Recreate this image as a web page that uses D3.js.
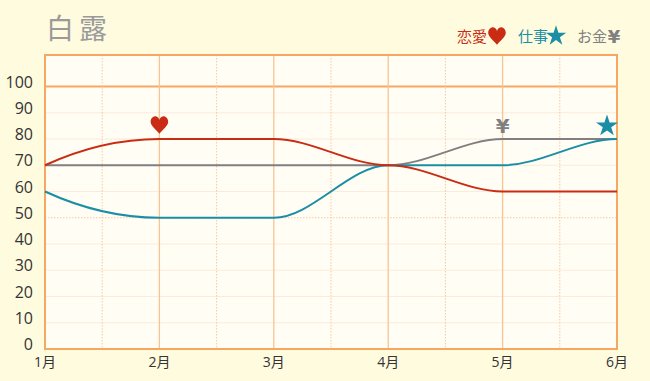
<!DOCTYPE html>
<html><head><meta charset="utf-8">
<script src="https://cdn.jsdelivr.net/npm/d3@7/dist/d3.min.js"></script>
<style>
html,body{margin:0;padding:0;background:#FFFBDF;}
svg{display:block;}
</style></head>
<body>
<svg id="c" width="650" height="381"></svg>
<script>
const months = ["1月","2月","3月","4月","5月","6月"];
const yTicks = [0,10,20,30,40,50,60,70,80,90,100];
const loveValues = [70,80,80,70,60,60];
const workValues = [60,50,50,70,70,80];
const moneyValues = [70,70,70,70,80,80];
const seriesNames = ["恋愛","仕事","お金"];
const markerMonths = ["2月","6月","5月"];

const colors = ["#C92B14","#1A8EA5","#808080"];
const svg = d3.select("#c");
const L=45,R=617,T=55,B=349;
const x = d3.scalePoint().domain(months).range([L,R]);
const y = d3.scaleLinear().domain([0,100]).range([B,86.5]);

svg.append("rect").attr("width",650).attr("height",381).attr("fill","#FFFBDF");
svg.append("rect").attr("x",L).attr("y",T).attr("width",R-L).attr("height",B-T).attr("fill","#FFFDF4");

// horizontal grid
yTicks.forEach(t=>{
  if(t===0) return;
  const g = svg.append("line").attr("x1",L).attr("x2",R).attr("y1",y(t)).attr("y2",y(t));
  if(t===100) g.attr("stroke","#F6A862").attr("stroke-width",2);
  else if(t===50) g.attr("stroke","#F7C9A0").attr("stroke-width",1).attr("stroke-dasharray","1.5,1.5");
  else g.attr("stroke","#FBEBDA").attr("stroke-width",1);
});
// vertical grid
const step = x.step();
months.forEach((m,i)=>{
  if(i>0 && i<months.length-1)
    svg.append("line").attr("x1",x(m)).attr("x2",x(m)).attr("y1",T).attr("y2",B)
      .attr("stroke","#F8C592").attr("stroke-width",1.3);
  if(i<months.length-1)
    svg.append("line").attr("x1",x(m)+step/2).attr("x2",x(m)+step/2).attr("y1",T).attr("y2",B)
      .attr("stroke","#F6C9A0").attr("stroke-width",1).attr("stroke-dasharray","1.5,1.5");
});
// frame
svg.append("rect").attr("x",L).attr("y",T).attr("width",R-L).attr("height",B-T)
  .attr("fill","none").attr("stroke","#F6A862").attr("stroke-width",2);

// axis labels
svg.append("g").selectAll("text").data(yTicks).join("text")
  .attr("x",33).attr("y",d=>y(d)+1).attr("text-anchor","end")
  .attr("font-family","'Open Sans', sans-serif").attr("font-size",16).attr("fill","#333")
  .text(d=>d);
svg.append("g").selectAll("text").data(months).join("text")
  .attr("x",d=>x(d)).attr("y",367).attr("text-anchor","middle")
  .attr("font-family","'Open Sans','Noto Sans CJK JP', sans-serif").attr("font-size",14).attr("fill","#333")
  .text(d=>d);

// custom curve: flat tangents at interior points and end, quadratic-like start
function curveFlat(context){
  let pts;
  return {
    areaStart(){}, areaEnd(){},
    lineStart(){pts=[];},
    point(px,py){pts.push([+px,+py]);},
    lineEnd(){
      context.moveTo(pts[0][0],pts[0][1]);
      for(let i=1;i<pts.length;i++){
        const [x0,y0]=pts[i-1],[x1,y1]=pts[i],h=x1-x0;
        const m0 = i===1 ? 2*(y1-y0)/h : 0;
        context.bezierCurveTo(x0+h/3,y0+m0*h/3,x1-h/3,y1,x1,y1);
      }
    }
  };
}
const line = d3.line().x((d,i)=>x(months[i])).y(d=>y(d)).curve(curveFlat);
const allSeries=[loveValues,workValues,moneyValues];
[moneyValues,workValues,loveValues].forEach(vals=>{
  const idx = allSeries.indexOf(vals);
  svg.append("path").attr("d",line(vals)).attr("fill","none")
    .attr("stroke",colors[idx]).attr("stroke-width",2);
});

// markers
function heartPath(cx,cy,s){
  return `M${cx},${cy+s*0.55} C${cx-s*0.2},${cy+s*0.3} ${cx-s*0.55},${cy+s*0.05} ${cx-s*0.55},${cy-s*0.2}
  C${cx-s*0.55},${cy-s*0.45} ${cx-s*0.35},${cy-s*0.55} ${cx-s*0.25},${cy-s*0.55}
  C${cx-s*0.1},${cy-s*0.55} ${cx},${cy-s*0.4} ${cx},${cy-s*0.3}
  C${cx},${cy-s*0.4} ${cx+s*0.1},${cy-s*0.55} ${cx+s*0.25},${cy-s*0.55}
  C${cx+s*0.35},${cy-s*0.55} ${cx+s*0.55},${cy-s*0.45} ${cx+s*0.55},${cy-s*0.2}
  C${cx+s*0.55},${cy+s*0.05} ${cx+s*0.2},${cy+s*0.3} ${cx},${cy+s*0.55}Z`;
}
{
  const cx=x(markerMonths[0]), cy=y(loveValues[1])-14;
  svg.append("path").attr("d",heartPath(cx,cy,16)).attr("fill",colors[0]);
}
{
  const cx=x(markerMonths[1])-10, cy=y(workValues[5])-13;
  svg.append("path").attr("d",d3.symbol(d3.symbolStar,150)()).attr("transform",`translate(${cx},${cy})`).attr("fill",colors[1]);
}
svg.append("text").attr("x",x(markerMonths[2])).attr("y",y(moneyValues[4])-6)
  .attr("text-anchor","middle").attr("font-family","'DejaVu Sans',sans-serif").attr("font-weight","bold")
  .attr("font-size",20).attr("fill",colors[2]).text("¥");

// title
svg.append("text").attr("x",46).attr("y",39).attr("font-family","'Noto Sans CJK JP',sans-serif")
  .attr("font-size",28).attr("letter-spacing",5).attr("fill","#9A9A9A").text("白露");

// legend
const legendX=[457,518,577];
seriesNames.forEach((n,i)=>{
  svg.append("text").attr("x",legendX[i]).attr("y",42)
    .attr("font-family","'Noto Sans CJK JP',sans-serif").attr("font-size",15).attr("fill",colors[i]).text(n);
});
svg.append("path").attr("d",heartPath(497,36,16)).attr("fill",colors[0]);
svg.append("path").attr("d",d3.symbol(d3.symbolStar,130)()).attr("transform","translate(556,36)").attr("fill",colors[1]);
svg.append("text").attr("x",614).attr("y",43).attr("text-anchor","middle").attr("font-family","'DejaVu Sans',sans-serif")
  .attr("font-weight","bold").attr("font-size",18).attr("fill",colors[2]).text("¥");
</script>
</body></html>
